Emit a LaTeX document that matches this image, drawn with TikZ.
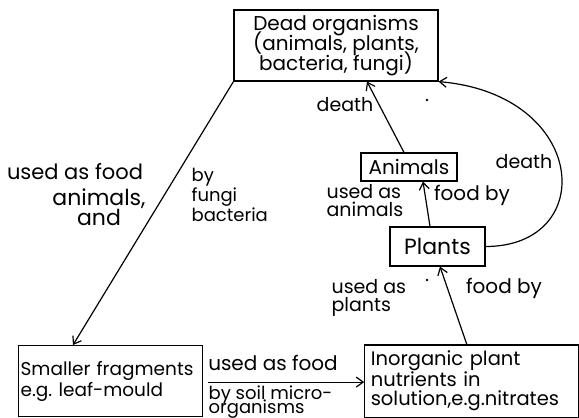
\documentclass[tikz,border=0pt]{standalone}
\usepackage{fontspec}
\setmainfont{Poppins}
\usetikzlibrary{arrows.meta, positioning}
\lineskiplimit=-\maxdimen

\begin{document}
\begin{tikzpicture}[
    x=1pt, y=-1pt,
    box/.style={draw, align=center, inner sep=3pt, font=\fontsize{20}{20}\selectfont},
    lbl/.style={align=left, inner sep=0pt, font=\fontsize{19}{16}\selectfont},
    >={Straight Barb[length=7pt, width=10pt]},
    line width=1.2pt
  ]
    \useasboundingbox (0,0) rectangle (579,418);

    \node[box, minimum width=204pt, minimum height=71pt] (dead) at (336,45.5) {Dead organisms\\(animals, plants,\\bacteria, fungi)};
    \node[box, minimum width=96pt, minimum height=28pt] (animals) at (409,167) {Animals};
    \node[box, minimum width=95pt, minimum height=39pt, font=\fontsize{22}{22}\selectfont] (plants) at (437.5,246.5) {Plants};
    \node[box, anchor=north west, inner sep=2pt, text width=180pt, minimum height=71pt, align=left, font=\fontsize{18.5}{21}\selectfont] (frag) at (18,345) {Smaller~fragments\\e.g.~leaf-mould};
    \node[box, right=161pt of frag, inner sep=6pt, text width=202pt, minimum height=72pt, align=left, font=\fontsize{19.5}{19}\selectfont] (inorg) {Inorganic plant\\nutrients in\\solution,e.g.nitrates};

    \draw[->] (dead.south west) -- ([xshift=55pt]frag.north west);
    \draw[->] ([xshift=-5pt]animals.north) -- ([xshift=31pt]dead.south);
    \draw[->] ([xshift=-7.5pt]plants.north) -- ([xshift=14pt]animals.south);
    \draw[->] (plants.east) .. controls +(113,0) and +(150,13) .. (dead.south east);
    \draw[->] ([xshift=-5pt]inorg.north) -- ([xshift=2.5pt]plants.south);
    \draw[->] ([yshift=-1pt, xshift=5pt]frag.east) -- ([yshift=-1pt]inorg.west);

    \node[lbl, font=\fontsize{21}{16}\selectfont] (usedFoodA) at (75,172) {used as food};
    \node[lbl, align=center, font=\fontsize{22}{20}\selectfont] (animalsAnd) at (99,207) {animals,\\and};
    \node[lbl, anchor=west, font=\fontsize{18}{20}\selectfont] (byFungi) at (191,195) {by\\fungi\\bacteria};
    \node[lbl] (deathA) at (345,105) {death};
    \node[lbl] (deathB) at (524,162) {death};
    \node[lbl, anchor=west, font=\fontsize{19}{18}\selectfont] (usedAsA) at (326,201) {used as\\animals};
    \node[lbl, font=\fontsize{20}{16}\selectfont] (foodByA) at (472,195) {food by};
    \node[lbl, anchor=west, font=\fontsize{19}{18}\selectfont] (usedAsB) at (331,298) {used as\\plants};
    \node[lbl, font=\fontsize{20}{16}\selectfont] (foodByB) at (504,288) {food by};
    \node[lbl, font=\fontsize{20}{16}\selectfont] (usedFoodB) at (273,363) {used as food};
    \node[lbl, anchor=west, font=\fontsize{18}{14.5}\selectfont] (bySoil) at (208,402) {by soil micro-\\organisms};

    \fill (427,100) circle (1.3pt);
    \fill (427,280) circle (1.3pt);
  \end{tikzpicture}
\end{document}
